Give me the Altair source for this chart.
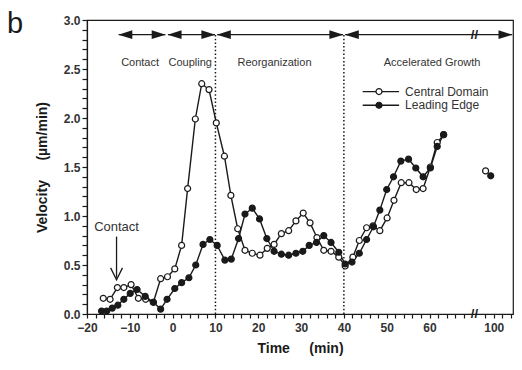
import altair as alt
import pandas as pd

# ---------------- data ----------------
cd_t = [-16.2, -14.6, -12.9, -11.4, -9.7, -8.0, -6.3, -4.5, -2.8, -1.2, 0.5, 2.1, 3.5, 5.3, 6.8, 8.5,
        10.2, 12.1, 13.6, 15.2, 16.9, 18.6, 20.4, 22.1, 23.7, 25.4, 27.1, 28.8, 30.5, 32.1, 33.7, 35.3,
        37.0, 38.8, 40.3, 42.1, 43.6, 45.3, 46.8, 48.4, 50.1, 51.7, 53.4, 55.2, 56.9, 58.5, 60.2, 61.8,
        63.3, 98.1]
cd_v = [0.16, 0.15, 0.27, 0.27, 0.30, 0.16, 0.15, 0.12, 0.36, 0.38, 0.46, 0.70, 1.28, 1.99, 2.35, 2.29,
        1.95, 1.61, 1.21, 0.87, 0.65, 0.62, 0.60, 0.67, 0.71, 0.82, 0.85, 0.95, 1.03, 0.93, 0.78, 0.65,
        0.64, 0.58, 0.49, 0.58, 0.75, 0.88, 0.90, 0.85, 0.98, 1.16, 1.34, 1.34, 1.27, 1.28, 1.50, 1.75,
        1.83, 1.46]
le_t = [-16.6, -15.4, -14.1, -12.8, -11.4, -9.9, -8.3, -6.4, -4.5, -2.8, -1.3, 0.5, 2.1, 3.8, 5.4, 7.1,
        8.7, 10.4, 12.2, 13.7, 15.4, 16.9, 18.6, 20.3, 22.0, 23.7, 25.4, 27.1, 28.8, 30.4, 31.9, 33.6,
        35.3, 37.0, 38.8, 40.3, 41.9, 43.6, 45.3, 46.9, 48.4, 50.0, 51.6, 53.3, 55.1, 56.8, 58.5, 60.2,
        61.8, 63.3, 99.3]
le_v = [0.03, 0.03, 0.06, 0.09, 0.15, 0.21, 0.25, 0.18, 0.12, 0.05, 0.15, 0.26, 0.32, 0.37, 0.50, 0.71,
        0.76, 0.70, 0.55, 0.56, 0.77, 1.02, 1.08, 0.97, 0.77, 0.64, 0.61, 0.60, 0.62, 0.64, 0.70, 0.73,
        0.80, 0.73, 0.63, 0.51, 0.53, 0.62, 0.76, 0.89, 1.06, 1.27, 1.40, 1.56, 1.58, 1.49, 1.40, 1.49,
        1.71, 1.83, 1.41]
series_names = ["Central Domain", "Leading Edge"]

phase_names = ["Contact", "Coupling", "Reorganization", "Accelerated Growth"]
phase_start = [-12.6, -1.1, 10.4, 40.3]
phase_end = [-1.7, 9.9, 39.8, 104.3]
phase_label_t = [-7.6, 4.1, 23.8, 60.6]
phase_arrow_v = 2.85
phase_label_v = 2.56

divider_t = [10, 40]
break_t = 70.5

x_tick_t = list(range(-20, 70, 2)) + [73, 75, 77, 79]   # display positions
y_tick_v = [round(i * 0.1, 1) for i in range(31)]

# ---------------- frames ----------------
MAP = "datum.t > 80 ? datum.t - 25 : datum.t"
df = pd.concat([
    pd.DataFrame({"t": cd_t, "v": cd_v, "series": series_names[0]}),
    pd.DataFrame({"t": le_t, "v": le_v, "series": series_names[1]}),
])
phases = pd.DataFrame({"name": phase_names, "t": phase_start, "t2": phase_end,
                       "lt": phase_label_t, "y": phase_arrow_v, "ly": phase_label_v})

INK = "#1a1a1a"
TXT = "#333333"
FONT = "Liberation Sans"

xs = alt.Scale(domain=[-20, 79.5], nice=False, zero=False)
ys = alt.Scale(domain=[0, 3], nice=False)

x_axis = alt.Axis(values=x_tick_t, tickCount=500, title="Time\u00a0\u00a0\u00a0\u00a0\u00a0(min)",
                  labelExpr="datum.value == 75 ? '100' : ((datum.value <= 60 && datum.value % 10 == 0) ? format(datum.value, 'd') : '')",
                  ticks=True, tickSize=4, tickColor=INK, tickWidth=1.2, tickOpacity=1,
                  labelOverlap=False, labelFlush=False,
                  labelPadding=4, titlePadding=8, grid=False)
y_axis = alt.Axis(values=y_tick_v, tickCount=500, title="Velocity\u00a0\u00a0\u00a0\u00a0\u00a0(\u00b5m/min)",
                  labelExpr="abs(datum.value*2 - round(datum.value*2)) < 0.01 ? format(datum.value, '.1f') : ''",
                  ticks=True, tickSize=5, tickColor=INK, tickWidth=1.2, tickOpacity=1,
                  labelOverlap=False, labelFlush=False,
                  labelPadding=2, titlePadding=14, grid=False)

base = alt.Chart(df).transform_calculate(d=MAP)

lines = base.transform_filter("datum.t < 80").mark_line(color=INK, strokeWidth=1.4).encode(
    x=alt.X("d:Q", scale=xs, axis=x_axis),
    y=alt.Y("v:Q", scale=ys, axis=y_axis),
    detail="series:N",
    order="t:Q",
)
points = base.mark_point(filled=True, shape="circle", size=36, stroke=INK, strokeWidth=1.2, opacity=1).encode(
    x="d:Q", y="v:Q",
    fill=alt.Fill("series:N", scale=alt.Scale(domain=series_names, range=["white", INK]), legend=None),
)

dividers = alt.Chart(pd.DataFrame({"t": divider_t, "y0": 0.0, "y1": 2.87})).mark_rule(
    color=INK, strokeWidth=1.5, strokeDash=[1.5, 2.2]).encode(x="t:Q", y="y0:Q", y2="y1:Q")

pbase = alt.Chart(phases).transform_calculate(d1="datum.t > 80 ? datum.t - 25 : datum.t",
                                              d2="datum.t2 > 80 ? datum.t2 - 25 : datum.t2")
arrow_lines = pbase.mark_rule(color=INK, strokeWidth=1.3).encode(x="d1:Q", x2="d2:Q", y="y:Q")
HEAD_R = "M1,0L-1,-0.62L-1,0.62Z"
HEAD_L = "M-1,0L1,-0.62L1,0.62Z"
heads_l = pbase.transform_calculate(hx="datum.d1 + 1.55").mark_point(
    shape=HEAD_L, size=196, filled=True, color=INK, opacity=1).encode(x="hx:Q", y="y:Q")
heads_r = pbase.transform_calculate(hx="datum.d2 - 1.55").mark_point(
    shape=HEAD_R, size=196, filled=True, color=INK, opacity=1).encode(x="hx:Q", y="y:Q")
phase_labels = pbase.mark_text(font=FONT, fontSize=11, color=TXT).encode(
    x="lt:Q", y="ly:Q", text="name:N")

breaks = alt.Chart(pd.DataFrame({"t": [break_t, break_t], "y": [0.0, phase_arrow_v]})).mark_text(
    text="//", font=FONT, fontSize=13, fontWeight="bold", color=INK).encode(x="t:Q", y="y:Q")

ann = pd.DataFrame({"t": [-13.1], "ty": [0.89], "y0": [0.79], "y1": [0.37], "hy": [0.41], "label": ["Contact"]})
ann_text = alt.Chart(ann).mark_text(font=FONT, fontSize=13, color=TXT).encode(
    x=alt.X("t:Q"), y="ty:Q", text="label:N")
ann_line = alt.Chart(ann).mark_rule(color=INK, strokeWidth=1.3).encode(x="t:Q", y="y0:Q", y2="y1:Q")
ann_head = alt.Chart(ann).mark_point(shape="M-1,-1L0,1L1,-1", size=140, filled=False, color=INK,
                                     strokeWidth=1.3, opacity=1).encode(x="t:Q", y="hy:Q")

leg = pd.DataFrame({"label": series_names, "x0": [44.4, 44.4], "x1": [52.9, 52.9], "xm": [48.2, 48.2],
                    "xt": [54.3, 54.3], "y": [2.27, 2.13]})
leg_lines = alt.Chart(leg).mark_rule(color=INK, strokeWidth=1.3).encode(x="x0:Q", x2="x1:Q", y="y:Q")
leg_pts = alt.Chart(leg).mark_point(filled=True, shape="circle", size=36, stroke=INK, strokeWidth=1.2, opacity=1).encode(
    x="xm:Q", y="y:Q",
    fill=alt.Fill("label:N", scale=alt.Scale(domain=series_names, range=["white", INK]), legend=None))
leg_text = alt.Chart(leg).mark_text(font=FONT, fontSize=12, color=TXT, align="left").encode(
    x="xt:Q", y="y:Q", text="label:N")

panel = alt.Chart(pd.DataFrame({"s": ["b"]})).mark_text(
    font=FONT, fontSize=29, color=INK, align="left", baseline="top").encode(
    x=alt.value(-80), y=alt.value(-10), text="s:N")

chart = alt.layer(
    lines, dividers, arrow_lines, heads_l, heads_r, phase_labels, breaks,
    ann_line, ann_head, ann_text,
    points, leg_lines, leg_pts, leg_text, panel,
).properties(
    width=426, height=294,
    background="white",
    autosize=alt.AutoSizeParams(type="none"),
    padding={"left": 79, "top": 12, "right": 1, "bottom": 48},
).configure_view(
    stroke=INK, strokeWidth=1.2,
).configure_axis(
    domainColor=INK, domainWidth=1.2, tickColor=INK, tickWidth=1.2,
    labelFont=FONT, labelFontSize=12, labelColor=TXT, labelFontWeight="bold",
    titleFont=FONT, titleFontSize=14, titleColor=INK, titleFontWeight="bold",
)

chart.save("out.html", embed_options={"renderer": "svg", "actions": False})
